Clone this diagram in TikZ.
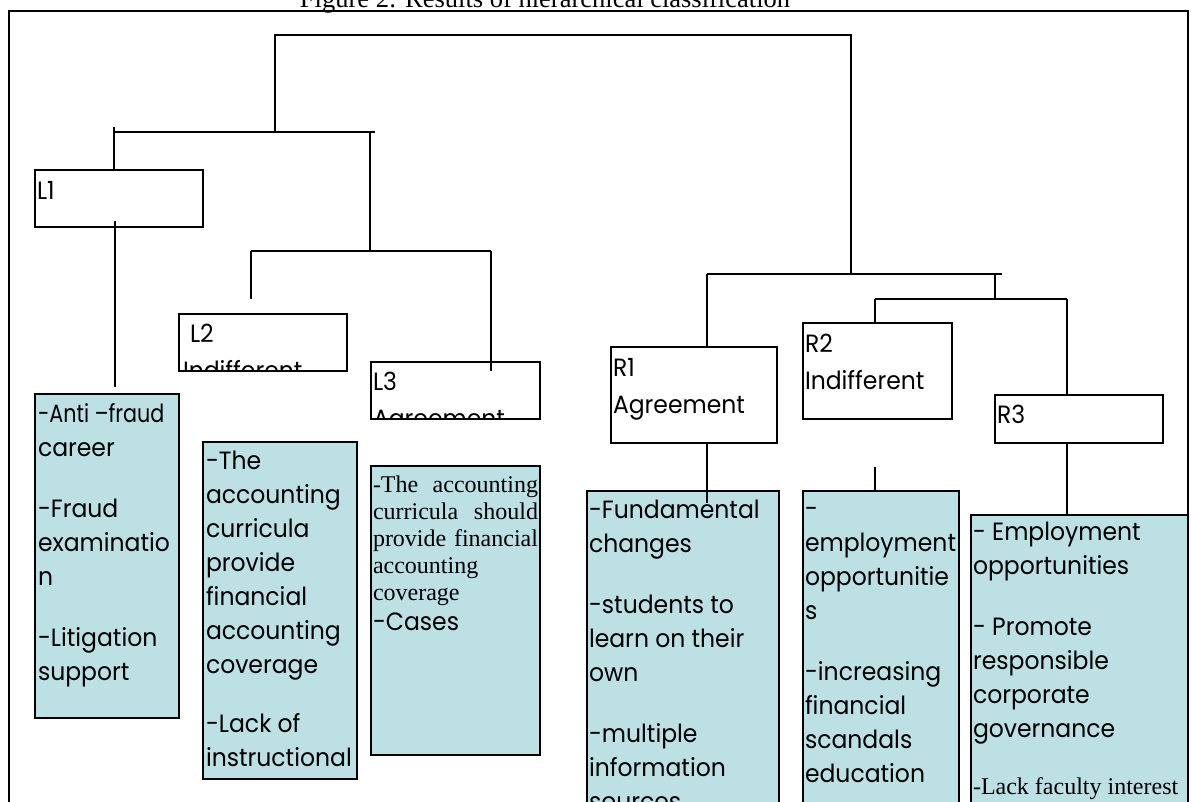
\documentclass[tikz,border=0pt]{standalone}
\usepackage{fontspec}
\usepackage{graphicx}
\newfontfamily\cgf[FakeStretch=0.94]{Poppins}
\newfontfamily\tmsf{Liberation Serif}
\definecolor{boxfill}{RGB}{188,224,228}
\newcommand\cgpar[1]{\parbox[t]{300pt}{\raggedright\cgf\fontsize{25}{34}\selectfont #1}}
\newcommand\hdrpar[1]{\parbox[t]{300pt}{\raggedright\cgf\fontsize{25}{37}\selectfont #1}}
\begin{document}
\begin{tikzpicture}[x=1pt,y=-1pt,
  conn/.style={line width=1.6pt},
  hbox/.style={draw=black, line width=2pt, fill=white, inner sep=0pt, outer sep=0pt, anchor=north west},
  cbox/.style={hbox, fill=boxfill},
  lbl/.style={anchor=base west, inner sep=0pt, outer sep=0pt}]
\useasboundingbox (0,0) rectangle (1191,801);
% title (cut by the page top)
\node[anchor=base, inner sep=0pt, font=\tmsf\fontsize{26.5}{30}\selectfont] (title) at (545,7) {Figure 2: Results of hierarchical classification};
% frame
\draw[line width=2pt] (9,815) -- (9,11) -- (1188,11) -- (1188,815);
% header boxes
\node[hbox, minimum width=168pt, minimum height=57pt] (L1) at (35,170) {};
\node[hbox, minimum width=168pt, minimum height=57pt] (L2) at (179,314) {};
\node[hbox, minimum width=169pt, minimum height=57pt] (L3) at (371,362) {};
\node[hbox, minimum width=166pt, minimum height=96pt] (R1) at (611,347) {};
\node[hbox, minimum width=149pt, minimum height=96pt] (R2) at (803,323) {};
\node[hbox, minimum width=168pt, minimum height=48pt] (R3) at (995,395) {};
% content boxes
\node[cbox, minimum width=144pt, minimum height=324pt] (L1c) at (35,394) {};
\node[cbox, minimum width=154pt, minimum height=337pt] (L2c) at (203,442) {};
\node[cbox, minimum width=169pt, minimum height=289pt] (L3c) at (371,466) {};
\node[cbox, minimum width=192pt, minimum height=340pt] (R1c) at (587,491) {};
\node[cbox, minimum width=156pt, minimum height=340pt] (R2c) at (803,491) {};
\node[cbox, minimum width=217pt, minimum height=320pt] (R3c) at (971,515) {};
% header texts
\node[lbl] (L1t) at (37,199) {\hdrpar{L1}};
\begin{scope}
\clip (L2.north west) rectangle (L2.south east);
\node[lbl] (L2t) at (183,342) {\hdrpar{\hspace*{7pt}L2\\Indifferent}};
\end{scope}
\begin{scope}
\clip (L3.north west) rectangle (L3.south east);
\node[lbl] (L3t) at (373,390) {\hdrpar{L3\\Agreement}};
\end{scope}
\node[lbl] (R1t) at (613,376) {\hdrpar{R1\\Agreement}};
\node[lbl] (R2t) at (805,352) {\hdrpar{R2\\Indifferent}};
\node[lbl] (R3t) at (997,423) {\hdrpar{R3}};
% content texts
\node[lbl] (L1ct) at (38,422) {\cgpar{\scalebox{0.88}[1]{-Anti –fraud}\\career\\[27pt]-Fraud\\examinatio\\n\\[27pt]-Litigation\\support}};
\node[lbl] (L2ct) at (206,469) {\cgpar{-The\\accounting\\curricula\\provide\\financial\\accounting\\coverage\\[25pt]-Lack of\\instructional}};
\node[lbl] (L3ct) at (373,492) {\parbox[t]{165pt}{\tmsf\fontsize{24}{27}\selectfont -The accounting\linebreak curricula should\linebreak provide financial\linebreak accounting\newline coverage\\[3pt]{\cgf\fontsize{25}{27}\selectfont -Cases}}};
\node[lbl] (R1ct) at (589,518) {\cgpar{-Fundamental\\changes\\[27pt]-students to\\learn on their\\own\\[27pt]-multiple\\information\\sources}};
\node[lbl] (R2ct) at (805,517) {\cgpar{-\\employment\\opportunitie\\s\\[27pt]-increasing\\financial\\scandals\\education}};
\node[lbl] (R3ct) at (973,540) {\cgpar{- Employment\\opportunities\\[27pt]- Promote\\responsible\\corporate\\governance\\[23pt]{\tmsf\fontsize{24}{27}\selectfont -Lack faculty interest}}};
% junction coordinates
\coordinate (T1) at (275,35);
\coordinate (T2) at (851,35);
\coordinate (LJ) at (275,132);
\coordinate (LA) at (114,132);
\coordinate (LAt) at (114,127);
\coordinate (LB) at (375,132);
\coordinate (LC) at (370,132);
\coordinate (LS) at (370,251);
\coordinate (LSa) at (251,251);
\coordinate (LSb) at (491,251);
\coordinate (L2end) at (251,299);
\coordinate (L3end) at (491,371);
\coordinate (L1a) at (115,221);
\coordinate (L1b) at (115,387);
\coordinate (RJ) at (851,274);
\coordinate (RA) at (707,274);
\coordinate (RB) at (1002,274);
\coordinate (RC) at (995,274);
\coordinate (RS) at (995,299);
\coordinate (RSa) at (875,299);
\coordinate (RSb) at (1067,299);
\coordinate (R1end) at (707,503);
\coordinate (R2a) at (875,467);
% connectors
\draw[conn] (LJ) -- (T1) -- (T2) -- (RJ);
\draw[conn] (LA) -- (LB);
\draw[conn] (LAt) -- (LAt |- L1.north);
\draw[conn] (LC) -- (LS);
\draw[conn] (LSa) -- (LSb);
\draw[conn] (LSa) -- (L2end);
\draw[conn] (LSb) -- (L3end);
\draw[conn] (L1a) -- (L1b);
\draw[conn] (RA) -- (RB);
\draw[conn] (RA) -- (RA |- R1.north);
\draw[conn] (RC) -- (RS);
\draw[conn] (RSa) -- (RSb);
\draw[conn] (RSa) -- (RSa |- R2.north);
\draw[conn] (RSb) -- (RSb |- R3.north);
\draw[conn] (RA |- R1.south) -- (R1end);
\draw[conn] (R2a) -- (R2a |- R2c.north);
\draw[conn] (RSb |- R3.south) -- (RSb |- R3c.north);
\end{tikzpicture}
\end{document}
